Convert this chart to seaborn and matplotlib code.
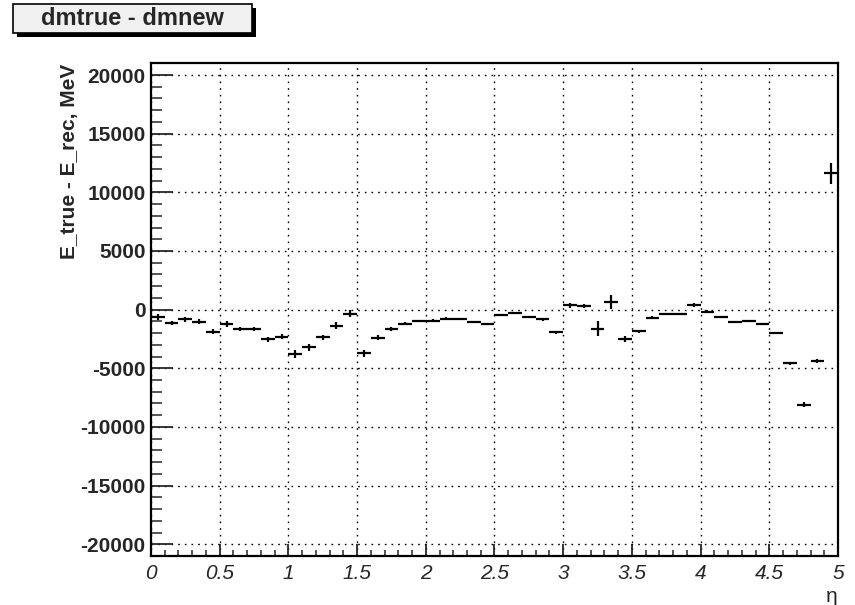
import numpy as np
import matplotlib
matplotlib.use("Agg")
import matplotlib.pyplot as plt
import matplotlib.patches as mpatches
from matplotlib.ticker import MultipleLocator
import seaborn as sns

# ---------------------------------------------------------------------------
# data (50 bins in eta, 0..5)
# ---------------------------------------------------------------------------
eta = [0.05, 0.15, 0.25, 0.35, 0.45, 0.55, 0.65, 0.75, 0.85, 0.95,
       1.05, 1.15, 1.25, 1.35, 1.45, 1.55, 1.65, 1.75, 1.85, 1.95,
       2.05, 2.15, 2.25, 2.35, 2.45, 2.55, 2.65, 2.75, 2.85, 2.95,
       3.05, 3.15, 3.25, 3.35, 3.45, 3.55, 3.65, 3.75, 3.85, 3.95,
       4.05, 4.15, 4.25, 4.35, 4.45, 4.55, 4.65, 4.75, 4.85, 4.95]
bin_half_width = 0.05

dE = [-650, -1130, -820, -1020, -1870, -1220, -1670, -1670, -2520, -2290,
      -3760, -3220, -2350, -1360, -340, -3730, -2400, -1610, -1190, -965,
      -940, -765, -820, -1050, -1250, -450, -280, -625, -820, -1920,
      360, 310, -1610, 650, -2520, -1840, -680, -370, -400, 390,
      -170, -625, -1050, -940, -1250, -1980, -4580, -8110, -4350, 11610]

dE_err = [250, 200, 200, 180, 180, 230, 150, 150, 200, 250,
          330, 280, 200, 280, 280, 330, 200, 170, 130, 120,
          120, 100, 100, 100, 80, 120, 120, 100, 120, 120,
          180, 180, 620, 570, 250, 120, 100, 100, 80, 150,
          100, 80, 80, 80, 100, 100, 120, 200, 180, 890]

title = "dmtrue - dmnew"
xlabel = "\u03b7"
ylabel = "E_true - E_rec, MeV"


def main():
    sns.set_style("ticks")
    plt.rcParams['font.family'] = ['Liberation Sans', 'DejaVu Sans']
    plt.rcParams['axes.unicode_minus'] = False

    fig = plt.figure(figsize=(8.55, 6.05), dpi=100)
    ax = fig.add_axes([0.1766, 0.081, 0.8035, 0.8144])

    ax.errorbar(eta, dE, xerr=bin_half_width, yerr=dE_err, fmt='none',
                ecolor='black', elinewidth=1.6, capsize=0, zorder=3)

    ax.set_xlim(0, 5)
    ax.set_ylim(-21000, 21000)

    # ROOT-like axes: major/minor ticks pointing inwards, dotted grid
    ax.xaxis.set_major_locator(MultipleLocator(0.5))
    ax.xaxis.set_minor_locator(MultipleLocator(0.1))
    ax.yaxis.set_major_locator(MultipleLocator(5000))
    ax.yaxis.set_minor_locator(MultipleLocator(1000))
    ax.tick_params(axis='x', which='major', direction='in', length=8.6,
                   width=1.3, pad=6, labelsize=15)
    ax.tick_params(axis='x', which='minor', direction='in', length=4.3, width=1.1)
    ax.tick_params(axis='y', which='major', direction='in', length=16,
                   width=1.3, pad=4, labelsize=15)
    ax.tick_params(axis='y', which='minor', direction='in', length=8, width=1.1)
    ax.set_xticklabels([f"{v:g}" for v in ax.get_xticks()], fontstyle='italic')
    ax.set_yticklabels([f"{v:.0f}" for v in ax.get_yticks()], fontweight='bold')

    ax.grid(True, which='major', color='black', linestyle=(0, (1.2, 3.6)),
            linewidth=1.0)
    ax.set_axisbelow(True)
    for sp in ax.spines.values():
        sp.set_linewidth(1.6)
        sp.set_color('black')

    ax.set_xlabel(xlabel, loc='right', fontsize=15)
    ax.xaxis.set_label_coords(1.0, -0.062)
    ax.set_ylabel(ylabel, loc='top', fontsize=15, fontweight='bold')
    ax.yaxis.set_label_coords(-0.105, 1.0)

    # title box with shadow in the top-left corner
    W, H = 855.0, 605.0
    x0, x1, y0, y1 = 13, 252, 4, 33
    sh = 4
    fig.patches.append(mpatches.Rectangle(((x0 + sh) / W, 1 - (y1 + sh) / H),
                                          (x1 - x0) / W, (y1 - y0) / H,
                                          transform=fig.transFigure,
                                          facecolor='black', edgecolor='none'))
    fig.patches.append(mpatches.Rectangle((x0 / W, 1 - y1 / H),
                                          (x1 - x0) / W, (y1 - y0) / H,
                                          transform=fig.transFigure,
                                          facecolor='#f0f0f0', edgecolor='black',
                                          linewidth=1.2))
    fig.text((x0 + x1) / 2 / W, 1 - (y0 + y1) / 2 / H, title,
             ha='center', va='center', fontsize=17, fontweight='bold')

    fig.savefig('out.png', dpi=100)


if __name__ == "__main__":
    main()
